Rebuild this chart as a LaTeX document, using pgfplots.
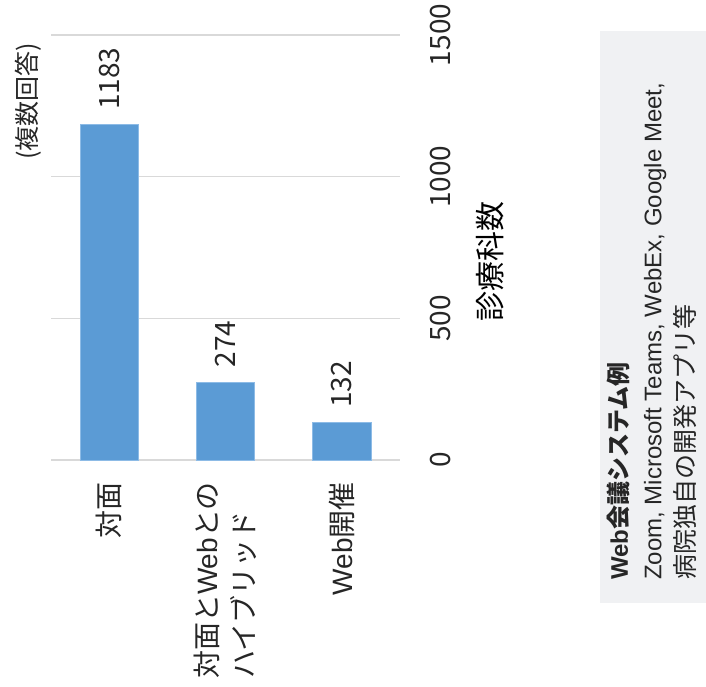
\documentclass[border=0pt]{standalone}
\usepackage{pgfplots}
\pgfplotsset{compat=1.18}
\usepackage{fontspec}
\setmainfont{Liberation Sans}
\newfontfamily\jp{Noto Sans CJK JP}
\definecolor{barblue}{HTML}{5B9BD5}
\definecolor{barborder}{HTML}{8DBBE6}
\definecolor{gridgray}{HTML}{D9D9D9}
\definecolor{boxgray}{HTML}{F0F1F3}
\definecolor{txt}{HTML}{262626}
\begin{document}
\begin{tikzpicture}[x=1pt,y=1pt]
\useasboundingbox (0,0) rectangle (706,687);
\fill[boxgray] (600,84) rectangle (706,656);
\begin{axis}[
  at={(51pt,227pt)}, anchor=south west,
  scale only axis, width=349pt, height=425pt,
  xmin=-0.5, xmax=2.5, ymin=0, ymax=1500,
  ytick={0,500,1000,1500},
  xtick={0,1,2},
  xticklabels={{\jp 対面},{{\jp 対面と}Web{\jp との}\\{\jp ハイブリッド}},{Web{\jp 開催}}},
  xticklabel style={rotate=90, anchor=east, align=left, inner sep=0pt, text=txt,
    font=\fontsize{28}{37}\selectfont},
  xticklabel shift=22pt,
  ymajorgrids,
  grid style={gridgray, line width=1.5pt},
  axis line style={draw=none},
  major tick length=0pt,
  yticklabel pos=right,
  yticklabel style={rotate=90, anchor=north, inner sep=0pt, text=txt,
    font=\jp\fontsize{28}{34}\selectfont},
  yticklabel shift=30pt,
  /pgf/number format/1000 sep={},
  /pgf/number format/assume math mode=true,
  every axis y label/.style={at={(axis description cs:1.258,0.466)}, anchor=center, rotate=90},
  ylabel={\jp\fontsize{30}{36}\selectfont 診療科数},
  ybar, bar width=0.5,
  nodes near coords,
  every node near coord/.append style={rotate=90, anchor=west, inner sep=0pt, outer xsep=15pt,
    text=txt, font=\jp\fontsize{28}{34}\selectfont},
  clip=false,
]
\addplot[fill=barblue, draw=barborder, line width=0.8pt] coordinates {(0,1183) (1,274) (2,132)};
\end{axis}
\node[rotate=90, inner sep=0pt, text=txt, font=\jp\fontsize{25}{30}\selectfont] at (28.5,585.5) {(複数回答)};
\node[rotate=90, anchor=north west, align=left, inner sep=0pt, text=txt,
  font=\fontsize{24}{33.5}\selectfont] at (607,107)
  {{\bfseries Web{\jp 会議システム例}}\\Zoom, Microsoft Teams, WebEx, Google Meet,\\{\jp\fontsize{25}{33.5}\selectfont 病院独自の開発アプリ等}};
\end{tikzpicture}
\end{document}
